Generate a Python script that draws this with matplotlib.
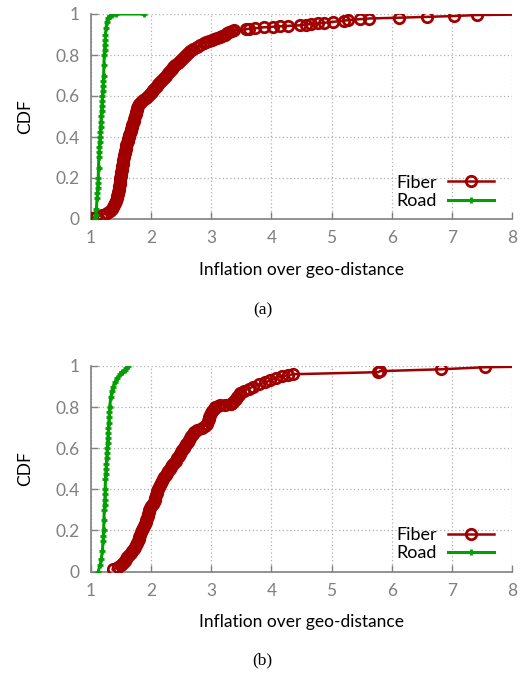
import matplotlib
matplotlib.use("Agg")
import matplotlib.pyplot as plt

# ---- data ----
# Panel (a)
fiber_a_x = [1.02, 1.08, 1.18, 1.27, 1.32, 1.35, 1.37, 1.385, 1.40, 1.415, 1.43, 1.44, 1.45,
             1.455, 1.46, 1.465, 1.47, 1.475, 1.48, 1.485, 1.49, 1.495, 1.50, 1.505, 1.51, 1.515,
             1.52, 1.525, 1.53, 1.54, 1.55, 1.555, 1.56, 1.57, 1.58, 1.585, 1.59, 1.60, 1.61,
             1.62, 1.63, 1.64, 1.65, 1.66, 1.67, 1.68, 1.69, 1.70, 1.71, 1.72, 1.73, 1.74, 1.75,
             1.76, 1.77, 1.785, 1.80, 1.83, 1.87, 1.91, 1.95, 1.98, 2.01, 2.03, 2.06, 2.09, 2.12,
             2.15, 2.18, 2.21, 2.25, 2.28, 2.31, 2.34, 2.37, 2.40, 2.44, 2.48, 2.52, 2.55, 2.58,
             2.61, 2.65, 2.70, 2.76, 2.82, 2.88, 2.92, 2.97, 3.01, 3.05, 3.10, 3.15, 3.18, 3.22,
             3.26, 3.30, 3.34, 3.38,
             3.57, 3.62, 3.73, 3.87, 4.03, 4.15, 4.27, 4.48, 4.57, 4.65, 4.77, 4.87, 5.03, 5.20,
             5.27, 5.48, 5.62, 6.12, 6.59, 7.03, 7.42, 9.0]
fiber_a_y = [0.005, 0.01, 0.02, 0.03, 0.04, 0.05, 0.06, 0.07, 0.08, 0.09, 0.10, 0.11, 0.12,
             0.13, 0.14, 0.15, 0.16, 0.17, 0.18, 0.19, 0.20, 0.21, 0.22, 0.23, 0.24, 0.25,
             0.26, 0.27, 0.28, 0.29, 0.30, 0.31, 0.32, 0.33, 0.34, 0.35, 0.36, 0.37, 0.38,
             0.39, 0.40, 0.41, 0.42, 0.43, 0.44, 0.45, 0.46, 0.47, 0.48, 0.49, 0.50, 0.51, 0.52,
             0.53, 0.54, 0.55, 0.56, 0.57, 0.58, 0.59, 0.60, 0.61, 0.62, 0.63, 0.64, 0.65, 0.66,
             0.67, 0.68, 0.69, 0.70, 0.71, 0.72, 0.73, 0.74, 0.75, 0.76, 0.77, 0.78, 0.79, 0.80,
             0.81, 0.82, 0.83, 0.84, 0.85, 0.86, 0.865, 0.87, 0.875, 0.88, 0.885, 0.89, 0.895, 0.90,
             0.905, 0.91, 0.915, 0.92,
             0.925, 0.928, 0.931, 0.935, 0.938, 0.940, 0.942, 0.945, 0.948, 0.951, 0.954, 0.957,
             0.962, 0.967, 0.970, 0.975, 0.978, 0.982, 0.986, 0.990, 0.995, 1.0]
road_a_x = [1.06, 1.08, 1.09, 1.10, 1.105, 1.11, 1.115, 1.12, 1.125, 1.13, 1.135, 1.14, 1.145,
            1.15, 1.155, 1.16, 1.165, 1.17, 1.175, 1.18, 1.185, 1.19, 1.195, 1.20, 1.205, 1.21,
            1.215, 1.22, 1.225, 1.23, 1.235, 1.24, 1.25, 1.26, 1.28, 1.31, 1.35, 1.42, 1.88]
road_a_y = [0.0, 0.02, 0.05, 0.10, 0.125, 0.15, 0.175, 0.20, 0.25, 0.30, 0.325, 0.35, 0.375,
            0.40, 0.425, 0.45, 0.475, 0.50, 0.525, 0.55, 0.575, 0.60, 0.625, 0.65, 0.675, 0.70,
            0.75, 0.80, 0.825, 0.85, 0.875, 0.90, 0.93, 0.96, 0.98, 0.99, 0.995, 1.0, 1.0]

# Panel (b)
fiber_b_x = [1.36, 1.45, 1.50, 1.53, 1.56, 1.58, 1.60, 1.63, 1.66, 1.69, 1.71, 1.73, 1.745,
             1.76, 1.775, 1.79, 1.805, 1.82, 1.835, 1.85, 1.865, 1.88, 1.895, 1.91, 1.92, 1.93,
             1.94, 1.95, 1.96, 1.97, 1.985, 2.00, 2.03, 2.05, 2.06, 2.07, 2.08, 2.09, 2.10, 2.11,
             2.125, 2.14, 2.16, 2.18, 2.20, 2.22, 2.24, 2.26, 2.285, 2.31, 2.33, 2.35, 2.38, 2.41,
             2.435, 2.46, 2.48, 2.50, 2.52, 2.54, 2.56, 2.58, 2.605, 2.63, 2.65, 2.67, 2.695,
             2.72, 2.77, 2.85, 2.89, 2.93, 2.945, 2.96, 2.97, 2.98, 2.995, 3.01, 3.04, 3.07,
             3.11, 3.15, 3.22, 3.32, 3.35, 3.38, 3.405, 3.43, 3.455, 3.48,
             3.55, 3.62, 3.70, 3.80, 3.90, 3.98, 4.07, 4.18, 4.28, 4.36,
             5.78, 5.80, 6.82, 7.55, 9.0]
fiber_b_y = [0.01, 0.02, 0.03, 0.04, 0.05, 0.06, 0.07, 0.08, 0.09, 0.10, 0.11, 0.12, 0.13,
             0.14, 0.15, 0.16, 0.17, 0.18, 0.19, 0.20, 0.21, 0.22, 0.23, 0.24, 0.25, 0.26,
             0.27, 0.28, 0.29, 0.30, 0.31, 0.32, 0.33, 0.34, 0.35, 0.36, 0.37, 0.38, 0.39, 0.40,
             0.41, 0.42, 0.43, 0.44, 0.45, 0.46, 0.47, 0.48, 0.49, 0.50, 0.51, 0.52, 0.53, 0.54,
             0.55, 0.56, 0.57, 0.58, 0.59, 0.60, 0.61, 0.62, 0.63, 0.64, 0.65, 0.66, 0.67,
             0.68, 0.69, 0.70, 0.71, 0.72, 0.73, 0.74, 0.75, 0.76, 0.77, 0.78, 0.79, 0.80,
             0.805, 0.81, 0.812, 0.815, 0.82, 0.83, 0.84, 0.85, 0.86, 0.87,
             0.88, 0.89, 0.90, 0.91, 0.92, 0.93, 0.94, 0.95, 0.955, 0.96,
             0.97, 0.975, 0.984, 0.994, 1.0]
road_b_x = [1.12, 1.15, 1.17, 1.19, 1.20, 1.205, 1.21, 1.215, 1.22, 1.225, 1.23, 1.233, 1.235,
            1.24, 1.245, 1.25, 1.255, 1.26, 1.265, 1.27, 1.275, 1.28, 1.285, 1.29, 1.295, 1.30,
            1.305, 1.31, 1.33, 1.35, 1.37, 1.40, 1.44, 1.48, 1.52, 1.56, 1.59, 1.62]
road_b_y = [0.0, 0.03, 0.06, 0.10, 0.15, 0.175, 0.20, 0.25, 0.30, 0.325, 0.35, 0.375, 0.40,
            0.45, 0.475, 0.50, 0.525, 0.55, 0.575, 0.60, 0.625, 0.65, 0.675, 0.70, 0.725, 0.75,
            0.775, 0.80, 0.85, 0.88, 0.90, 0.92, 0.94, 0.96, 0.97, 0.98, 0.99, 1.0]

x_ticks = [1, 2, 3, 4, 5, 6, 7, 8]
x_tick_labels = ["1", "2", "3", "4", "5", "6", "7", "8"]
y_ticks = [0, 0.2, 0.4, 0.6, 0.8, 1]
y_tick_labels = ["0", "0.2", "0.4", "0.6", "0.8", "1"]
series_names = ["Fiber", "Road"]
xlabel = "Inflation over geo-distance"
ylabel = "CDF"
captions = ["(a)", "(b)"]

# ---- style ----
FONT = ["Lato", "DejaVu Sans"]
RED = "#a00000"
GREEN = "#00a000"
GRAY = "#808080"

W, H = 525, 673
fig = plt.figure(figsize=(W / 100, H / 100), dpi=100)

panels = [
    (fiber_a_x, fiber_a_y, road_a_x, road_a_y, 14, 219, 270, 310),
    (fiber_b_x, fiber_b_y, road_b_x, road_b_y, 366, 571.5, 622, 660),
]
left_px, right_px = 91, 512

for i, (fx, fy, rx, ry, top_px, bot_px, xl_px, cap_px) in enumerate(panels):
    ax = fig.add_axes([left_px / W, 1 - bot_px / H, (right_px - left_px) / W, (bot_px - top_px) / H])
    ax.plot(fx, fy, color=RED, lw=1.8, marker="o", ms=7.5, mfc="none", mew=2.0,
            label=series_names[0], clip_on=True, zorder=3)
    ax.plot(rx, ry, color=GREEN, lw=2.2, marker="+", ms=4.5, mew=2.0,
            label=series_names[1], clip_on=True, zorder=4)
    ax.set_xlim(1, 8)
    ax.set_ylim(0, 1)
    ax.set_xticks(x_ticks)
    ax.set_xticklabels(x_tick_labels)
    ax.set_yticks(y_ticks)
    ax.set_yticklabels(y_tick_labels)
    for s in ["top", "right"]:
        ax.spines[s].set_visible(False)
    for s in ["left", "bottom"]:
        ax.spines[s].set_color(GRAY)
        ax.spines[s].set_linewidth(1.2)
    ax.grid(True, color="#b0b0b0", linestyle=(0, (1, 2)), linewidth=0.9)
    ax.tick_params(direction="in", length=5, width=1.0, color=GRAY, labelcolor=GRAY,
                   labelsize=12.5, pad=8)
    for lab in ax.get_xticklabels() + ax.get_yticklabels():
        lab.set_family(FONT)
    ax.set_axisbelow(True)
    ax.set_ylabel(ylabel, family=FONT, fontsize=12.5, labelpad=16)
    fig.text((left_px + right_px) / 2 / W, 1 - xl_px / H, xlabel, family=FONT, fontsize=12.5,
             ha="center", va="center")
    fig.text(0.5, 1 - cap_px / H, captions[i], family=["Liberation Serif", "DejaVu Serif"],
             fontsize=12.5, ha="center", va="center")
    leg = ax.legend(loc="lower right", bbox_to_anchor=(0.997, -0.03), markerfirst=False,
                    frameon=False, prop={"family": FONT, "size": 13}, handlelength=2.6,
                    handletextpad=0.6, labelspacing=0.12)

fig.savefig("out.png", dpi=100)
